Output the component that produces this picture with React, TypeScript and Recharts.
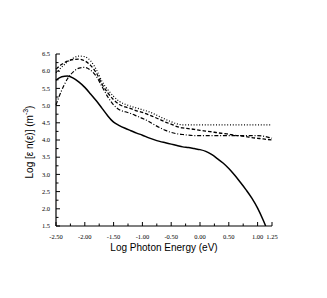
import { LineChart, Line, XAxis, YAxis, Label } from "recharts";

// log photon energy (eV)
const energy = [
	-2.5, -2.4, -2.3, -2.2, -2.1, -2.0, -1.9, -1.8, -1.7, -1.6, -1.5, -1.4, -1.3, -1.2, -1.1, -1.0,
	-0.9, -0.8, -0.7, -0.6, -0.5, -0.4, -0.3, -0.2, -0.1, 0.0, 0.1, 0.2, 0.3, 0.4, 0.5, 0.6, 0.7,
	0.8, 0.9, 1.0, 1.1, 1.25,
];

const solid = [
	5.74, 5.84, 5.86, 5.8, 5.68, 5.53, 5.34, 5.14, 4.92, 4.7, 4.52, 4.42, 4.34, 4.27, 4.2, 4.14,
	4.07, 4.01, 3.96, 3.92, 3.88, 3.84, 3.8, 3.78, 3.75, 3.72, 3.67, 3.58, 3.46, 3.33, 3.17, 2.98,
	2.77, 2.55, 2.31, 2.02, 1.66, null,
];
const dotted = [
	5.95, 6.12, 6.27, 6.38, 6.44, 6.42, 6.3, 6.05, 5.7, 5.46, 5.27, 5.12, 5.04, 4.98, 4.93, 4.88,
	4.83, 4.76, 4.68, 4.6, 4.53, 4.47, 4.44, 4.44, 4.44, 4.44, 4.44, 4.44, 4.44, 4.44, 4.44, 4.44,
	4.44, 4.44, 4.44, 4.44, 4.44, 4.44,
];
const dashed = [
	6.06, 6.2, 6.29, 6.34, 6.35, 6.3, 6.17, 5.95, 5.62, 5.37, 5.17, 5.03, 4.96, 4.91, 4.85, 4.8,
	4.74, 4.67, 4.6, 4.52, 4.46, 4.39, 4.35, 4.33, 4.31, 4.28, 4.26, 4.24, 4.21, 4.19, 4.17, 4.14,
	4.12, 4.1, 4.07, 4.05, 4.03, 4.0,
];
const dashDot = [
	5.02, 5.45, 5.78, 5.98, 6.09, 6.11, 6.03, 5.85, 5.55, 5.25, 5.02, 4.88, 4.82, 4.77, 4.7, 4.63,
	4.55, 4.45, 4.36, 4.28, 4.22, 4.18, 4.16, 4.14, 4.13, 4.13, 4.13, 4.13, 4.13, 4.13, 4.13, 4.13,
	4.13, 4.13, 4.13, 4.13, 4.11, 4.05,
];
// solid curve hits the bottom of the frame here
const solidEnd = { x: 1.14, y: 1.5 };

const xTicks = [
	-2.5, -2.25, -2.0, -1.75, -1.5, -1.25, -1.0, -0.75, -0.5, -0.25, 0.0, 0.25, 0.5, 0.75, 1.0, 1.25,
];
const xLabels = [-2.5, -2.0, -1.5, -1.0, -0.5, 0.0, 0.5, 1.0, 1.25];
const yTicks = [
	1.5, 1.75, 2.0, 2.25, 2.5, 2.75, 3.0, 3.25, 3.5, 3.75, 4.0, 4.25, 4.5, 4.75, 5.0, 5.25, 5.5,
	5.75, 6.0, 6.25, 6.5,
];
const yLabels = [1.5, 2.0, 2.5, 3.0, 3.5, 4.0, 4.5, 5.0, 5.5, 6.0, 6.5];

const data = energy.map((e, i) => ({
	x: e,
	dotted: dotted[i],
	dashed: dashed[i],
	dashDot: dashDot[i],
}));
const solidData = [
	...energy.map((e, i) => ({ x: e, solid: solid[i] })).filter((d) => d.solid !== null),
	{ x: solidEnd.x, solid: solidEnd.y },
];

const PLOT_LEFT = 56;
const PLOT_BOTTOM = 226;
const SERIF = '"Liberation Serif", "Times New Roman", serif';
const SANS = '"Liberation Sans", Arial, sans-serif';

const XTick = (props: any) => {
	const { x, payload } = props;
	const major = xLabels.includes(payload.value);
	return (
		<g>
			<line x1={x} x2={x} y1={PLOT_BOTTOM} y2={PLOT_BOTTOM - (major ? 4 : 2.5)} stroke="#000" strokeWidth={1} />
			{major && (
				<text x={x} y={239} textAnchor="middle" style={{ fontFamily: SERIF, fontSize: 6.5 }} fill="#000">
					{payload.value.toFixed(2)}
				</text>
			)}
		</g>
	);
};

const YTick = (props: any) => {
	const { y, payload } = props;
	const major = yLabels.includes(payload.value);
	return (
		<g>
			<line x1={PLOT_LEFT} x2={PLOT_LEFT + (major ? 4 : 2.5)} y1={y} y2={y} stroke="#000" strokeWidth={1} />
			{major && (
				<text x={50} y={y + 2.2} textAnchor="end" style={{ fontFamily: SERIF, fontSize: 6.5 }} fill="#000">
					{payload.value.toFixed(1)}
				</text>
			)}
		</g>
	);
};

const YTitle = () => (
	<text
		x={30}
		y={142}
		transform="rotate(-90 30 142)"
		textAnchor="middle"
		dominantBaseline="middle"
		style={{ fontFamily: SANS, fontSize: 10 }}
		fill="#000"
	>
		Log [ε n(ε)] (m
		<tspan dy={-4} fontSize={7}>
			-3
		</tspan>
		<tspan dy={4}>)</tspan>
	</text>
);

const App = () => {
	return (
		<div style={{ position: "absolute", left: 0, top: 0, background: "#fff" }}>
			<LineChart width={327} height={298} data={data} margin={{ top: 54, right: 55, bottom: 0, left: 0 }}>
				<XAxis
					dataKey="x"
					type="number"
					domain={[-2.5, 1.25]}
					ticks={xTicks}
					interval={0}
					height={72}
					tick={<XTick />}
					tickLine={false}
					axisLine={{ stroke: "#000", strokeWidth: 1.2 }}
				>
					<Label
						value="Log Photon Energy (eV)"
						position="insideBottom"
						offset={47}
						style={{ fontFamily: SANS, fontSize: 10, fill: "#000" }}
					/>
				</XAxis>
				<XAxis
					xAxisId="top"
					orientation="top"
					dataKey="x"
					type="number"
					domain={[-2.5, 1.25]}
					height={0}
					tick={false}
					tickLine={false}
					axisLine={{ stroke: "#000", strokeWidth: 1.2 }}
				/>
				<YAxis
					type="number"
					domain={[1.5, 6.5]}
					ticks={yTicks}
					interval={0}
					width={56}
					tick={<YTick />}
					tickLine={false}
					allowDataOverflow
					axisLine={{ stroke: "#000", strokeWidth: 1.2 }}
				>
					<Label content={<YTitle />} />
				</YAxis>
				<YAxis
					yAxisId="right"
					orientation="right"
					type="number"
					domain={[1.5, 6.5]}
					width={0}
					tick={false}
					tickLine={false}
					axisLine={{ stroke: "#666", strokeWidth: 1.6 }}
				/>
				<Line
					data={solidData}
					dataKey="solid"
					type="monotone"
					stroke="#000"
					strokeWidth={1.5}
					dot={false}
					isAnimationActive={false}
				/>
				<Line
					dataKey="dotted"
					type="monotone"
					stroke="#000"
					strokeWidth={1.2}
					strokeDasharray="1 1.8"
					dot={false}
					isAnimationActive={false}
				/>
				<Line
					dataKey="dashed"
					type="monotone"
					stroke="#000"
					strokeWidth={1.3}
					strokeDasharray="3.5 2"
					dot={false}
					isAnimationActive={false}
				/>
				<Line
					dataKey="dashDot"
					type="monotone"
					stroke="#000"
					strokeWidth={1.2}
					strokeDasharray="4 1.8 1 1.8"
					dot={false}
					isAnimationActive={false}
				/>
			</LineChart>
		</div>
	);
};

export default App;
